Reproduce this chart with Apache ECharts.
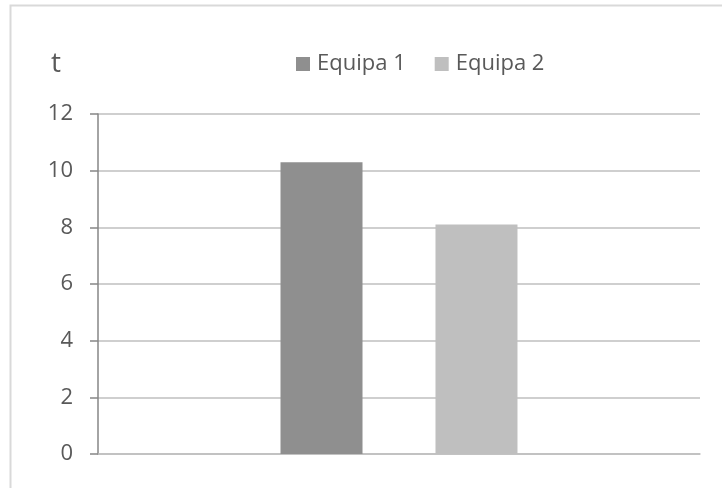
<!DOCTYPE html>
<html>
<head>
<meta charset="utf-8">
<script src="https://cdn.jsdelivr.net/npm/echarts@6/dist/echarts.min.js"></script>
<style>
  html, body { margin: 0; padding: 0; background: #ffffff; }
  #chart { width: 722px; height: 488px; }
</style>
</head>
<body>
<div id="chart"></div>
<script>
// Chart data
const categories = [''];
const seriesNames = ['Equipa 1', 'Equipa 2'];
const equipa1 = [10.3];
const equipa2 = [8.1];
const yTicks = [0, 2, 4, 6, 8, 10, 12];
const unitLabel = 't';

const FONT = '"Open Sans", Lato, sans-serif';
const TEXT = '#595959';

const chart = echarts.init(document.getElementById('chart'), null, { renderer: 'canvas' });

chart.setOption({
  animation: false,
  backgroundColor: '#ffffff',
  textStyle: { fontFamily: FONT, color: TEXT },
  graphic: [
    {
      type: 'rect',
      shape: { x: 10.5, y: 5.5, width: 730, height: 500 },
      style: { fill: 'none', stroke: '#d9d9d9', lineWidth: 2 },
      silent: true
    },
    {
      type: 'text',
      left: 51,
      top: 50,
      style: { text: unitLabel, font: '28px ' + FONT, fill: TEXT }
    }
  ],
  legend: {
    data: seriesNames,
    top: 48,
    left: 291,
    itemWidth: 14,
    itemHeight: 14,
    itemGap: 29,
    icon: 'rect',
    textStyle: { fontSize: 22, color: TEXT, fontFamily: FONT, padding: [0, 0, 0, 2] }
  },
  grid: { left: 98, right: 22, top: 114, bottom: 34, containLabel: false },
  xAxis: {
    type: 'category',
    data: categories,
    axisLine: { show: true, lineStyle: { color: '#bfbfbf', width: 1.5 } },
    axisTick: { show: false },
    axisLabel: { show: false }
  },
  yAxis: {
    type: 'value',
    min: yTicks[0],
    max: yTicks[yTicks.length - 1],
    interval: yTicks[1] - yTicks[0],
    axisLine: { show: true, lineStyle: { color: '#868686', width: 1.5 } },
    axisTick: { show: true, length: 8, lineStyle: { color: '#868686', width: 1.5 } },
    axisLabel: { fontSize: 22, color: TEXT, fontFamily: FONT, margin: 25 },
    splitLine: { show: true, lineStyle: { color: '#bfbfbf', width: 1.5 } }
  },
  series: [
    {
      name: seriesNames[0],
      type: 'bar',
      data: equipa1,
      barWidth: 82,
      barGap: '89%',
      itemStyle: { color: '#8f8f8f' }
    },
    {
      name: seriesNames[1],
      type: 'bar',
      data: equipa2,
      barWidth: 82,
      itemStyle: { color: '#bfbfbf' }
    }
  ]
});
</script>
</body>
</html>
